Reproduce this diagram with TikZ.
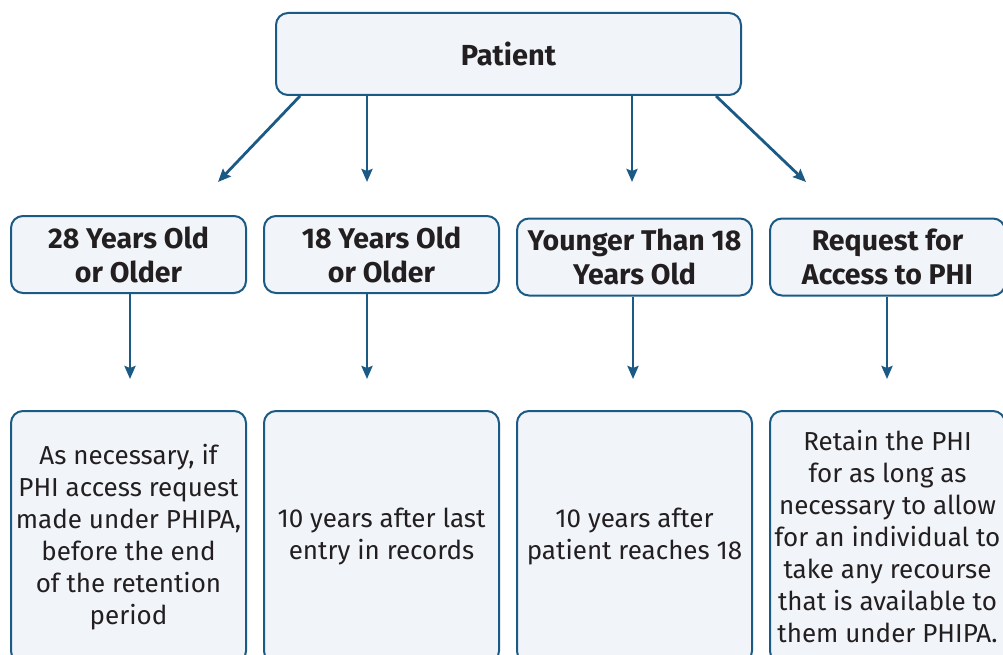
\documentclass[tikz,border=0pt]{standalone}
\usepackage{fontspec}
\setmainfont{Fira Sans}
\usetikzlibrary{arrows.meta}
\definecolor{bl}{HTML}{1B5A84}
\definecolor{fl}{HTML}{F1F5F9}
\definecolor{tx}{HTML}{231F20}
\tikzset{
  box/.style={draw=bl, line width=2pt, fill=fl, rounded corners=12pt, text=tx, align=center, inner sep=0pt},
  head/.style={box, font=\fontsize{28.5}{34}\selectfont\bfseries, minimum width=235pt, minimum height=77pt},
  body/.style={box, font=\fontsize{26}{32}\selectfont, minimum width=235pt, minimum height=252pt},
  arr/.style={draw=bl, line width=2.8pt, -{Stealth[length=13pt,width=11pt,inset=2pt]}}
}
\begin{document}
\begin{tikzpicture}[x=1pt,y=-1pt]
\useasboundingbox (0,0) rectangle (1003,655);
\clip (0,0) rectangle (1003,655);
\node[box, minimum width=465pt, minimum height=82pt, font=\fontsize{29}{34}\selectfont\bfseries] (p) at (508.5,54) {Patient};
\node[head] (h1) at (128.5,254.5) {28 Years Old\\or Older};
\node[head] (h2) at (381.5,254.5) {18 Years Old\\or Older};
\node[head] (h3) at (634.5,257) {Younger Than 18\\Years Old};
\node[head] (h4) at (887.5,257) {Request for\\Access to PHI};
\node[body] (b1) at (128.5,537) {As necessary, if\\PHI access request\\made under PHIPA,\\before the end\\of the retention\\period};
\node[body] (b2) at (381.5,537) {10 years after last\\entry in records};
\node[body] (b3) at (634.5,537) {10 years after\\patient reaches 18};
\node[body] (b4) at (887.5,537) {Retain the PHI\\for as long as\\necessary to allow\\for an individual to\\take any recourse\\that is available to\\them under PHIPA.};
\coordinate (s1) at (300,96);
\coordinate (t1) at (218,182);
\coordinate (t2) at (367,182);
\coordinate (t3) at (632,182);
\coordinate (s4) at (716,96);
\coordinate (t4) at (806,182);
\draw[arr] (s1) -- (t1);
\draw[arr] (p.south -| t2) -- (t2);
\draw[arr] (p.south -| t3) -- (t3);
\draw[arr] (s4) -- (t4);
\coordinate (c1) at (130,379);
\coordinate (c2) at (367,379);
\coordinate (c3) at (633,379);
\coordinate (c4) at (887,379);
\draw[arr] (h1.south -| c1) -- (c1);
\draw[arr] (h2.south -| c2) -- (c2);
\draw[arr] (h3.south -| c3) -- (c3);
\draw[arr] (h4.south -| c4) -- (c4);
\end{tikzpicture}
\end{document}
